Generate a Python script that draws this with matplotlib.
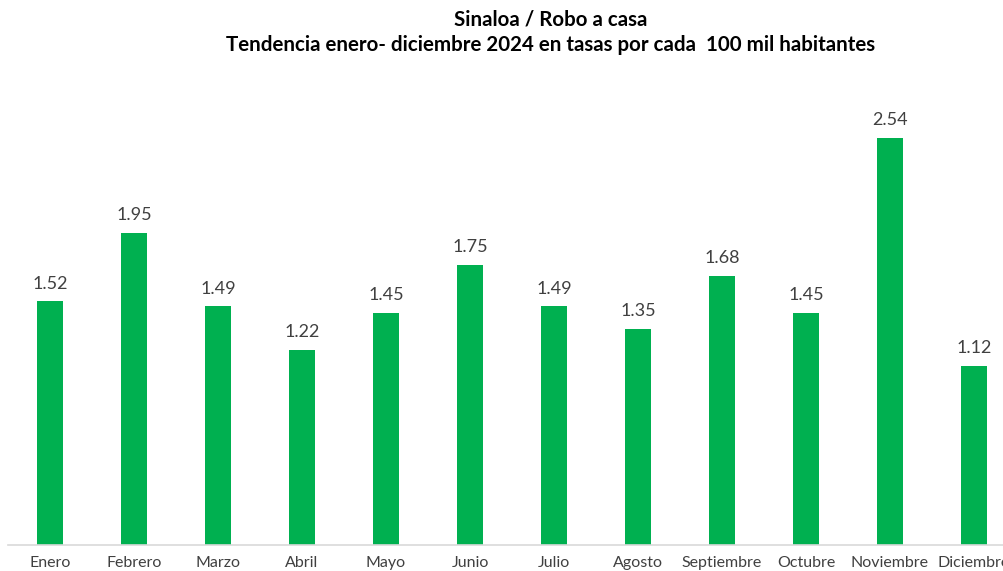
import matplotlib.pyplot as plt

plt.rcParams['font.family'] = ['Lato', 'DejaVu Sans']

meses = ['Enero', 'Febrero', 'Marzo', 'Abril', 'Mayo', 'Junio', 'Julio',
         'Agosto', 'Septiembre', 'Octubre', 'Noviembre', 'Diciembre']
tasas = [1.52, 1.95, 1.49, 1.22, 1.45, 1.75, 1.49, 1.35, 1.68, 1.45, 2.54, 1.12]

fig = plt.figure(figsize=(10.04, 5.71), dpi=100)
# axes a bit wider than the figure, like the original (Diciembre is cut off)
ax = fig.add_axes([8 / 1004, 26 / 571, 1008 / 1004, 465 / 571])

x = range(len(meses))
bars = ax.bar(x, tasas, width=0.32, color='#00B050', zorder=2)
for b, v in zip(bars, tasas):
    ax.text(b.get_x() + b.get_width() / 2, v + 0.06, f'{v:.2f}',
            ha='center', va='bottom', fontsize=13, color='#404040')

ax.set_xlim(-0.5, len(meses) - 0.5)
ax.set_ylim(0, 465 / 160.2)
ax.set_xticks(list(x))
ax.set_xticklabels(meses, fontsize=11.5, color='#404040')
for lbl in ax.get_xticklabels():
    lbl.set_va('baseline')
ax.tick_params(axis='x', length=0, pad=16)
ax.set_yticks([])
for s in ['top', 'right', 'left']:
    ax.spines[s].set_visible(False)
ax.spines['bottom'].set_color('#D9D9D9')
ax.spines['bottom'].set_linewidth(1.2)

fig.text(551 / 1004, 1 - 19 / 571, 'Sinaloa / Robo a casa', ha='center', va='center',
         fontsize=14.8, fontweight='bold', color='#000000')
fig.text(551 / 1004, 1 - 45 / 571,
         'Tendencia enero- diciembre 2024 en tasas por cada  100 mil habitantes',
         ha='center', va='center', fontsize=14.8, fontweight='bold', color='#000000')

fig.savefig('out.png', dpi=100)
